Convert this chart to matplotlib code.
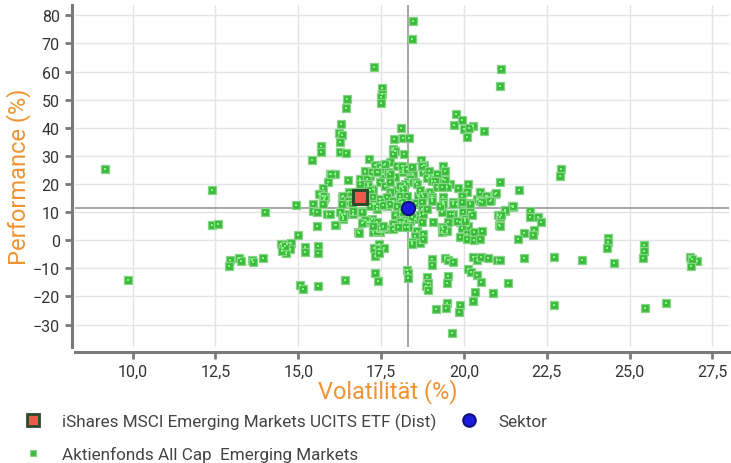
"""Rendite-Risiko-Streudiagramm: ETF vs. Sektor vs. Fonds der Peergroup."""

import matplotlib

matplotlib.use("Agg")
import matplotlib.pyplot as plt
from matplotlib.lines import Line2D
from matplotlib.ticker import FuncFormatter

# Volatilität (%), Performance (%) der Fonds aus der Peergroup
fund_upper = [
    (18.45, 77.9), (18.43, 71.5), (17.28, 61.7), (21.13, 60.9), (21.09, 55.0),
    (17.54, 54.1), (17.52, 52.1), (17.50, 51.1), (17.49, 49.0), (16.46, 50.3),
    (16.45, 47.0), (16.30, 41.5), (16.24, 38.2), (16.32, 37.4), (16.26, 35.1),
    (15.68, 33.4), (15.68, 31.3), (15.42, 28.7), (16.26, 31.5), (16.44, 31.0),
    (18.10, 40.1), (17.89, 35.9), (18.17, 36.3), (18.34, 36.4), (17.85, 32.5),
    (17.92, 31.9), (17.87, 30.7), (18.19, 30.7), (17.14, 28.8), (17.31, 26.9),
    (17.60, 26.9), (17.77, 27.7), (18.71, 28.7), (18.78, 26.6), (19.37, 26.5),
    (19.77, 44.8), (19.94, 42.8), (19.70, 41.1), (20.00, 39.6), (20.27, 40.7),
    (20.14, 39.9), (20.08, 36.9), (20.61, 38.8), (22.94, 25.5), (22.90, 22.8),
    (9.17, 25.5), (12.39, 17.9),
]

fund_core = [
    # obere Reihe
    (15.96, 23.6), (16.11, 23.6), (16.51, 21.5), (16.86, 21.2), (17.01, 24.2),
    (17.17, 23.0), (17.42, 24.2), (17.57, 23.6), (17.72, 24.2), (17.92, 22.4),
    (18.17, 24.2), (18.47, 23.6), (18.77, 24.2), (18.93, 23.0), (19.08, 23.2),
    (19.23, 23.6), (19.38, 21.8), (19.43, 24.8), (19.58, 20.0), (19.83, 18.5),
    (20.13, 20.0), (20.08, 17.3), (20.49, 17.1), (20.69, 15.9), (20.94, 16.5),
    (21.09, 20.6), (21.66, 17.9),
    (17.32, 26.8), (17.47, 25.9), (17.62, 27.2), (17.97, 26.5), (18.17, 25.4),
    (17.01, 24.8), (17.22, 24.2), (17.37, 24.2), (17.77, 23.6), (16.86, 21.8),
    (17.06, 21.8), (18.12, 26.5), (18.27, 25.4), (18.42, 26.0), (18.37, 21.8),
    (18.52, 20.6), (18.73, 26.5), (18.93, 24.8), (19.18, 23.6), (18.88, 22.1),
    (19.03, 21.2), (19.13, 21.2), (19.43, 21.6),
    # mittlere Reihe
    (15.91, 20.6), (15.75, 18.5), (15.66, 16.5), (15.81, 15.3), (16.31, 15.3),
    (16.61, 17.1), (16.86, 20.0), (17.11, 20.0), (17.26, 18.3), (17.46, 20.6),
    (17.62, 19.4), (17.77, 20.6), (17.97, 17.7), (18.12, 18.9), (18.32, 20.6),
    (18.58, 20.0), (18.62, 15.9), (18.73, 16.5), (18.98, 17.1), (19.03, 15.3),
    (19.18, 18.9), (19.38, 15.3), (19.48, 18.9), (19.68, 13.5), (19.78, 12.9),
    (19.93, 15.9), (20.39, 14.7), (16.00, 23.6), (15.63, 16.5), (15.74, 15.7),
    (15.78, 14.7), (16.54, 17.1), (16.36, 15.9), (16.51, 14.1), (16.61, 12.9),
    (17.11, 19.4), (17.17, 17.7), (17.77, 17.1), (18.17, 17.1), (18.22, 20.0),
    (17.26, 15.3), (17.47, 14.7), (17.67, 15.3), (17.87, 14.1), (18.07, 14.7),
    (18.27, 14.1), (17.32, 12.9), (19.33, 18.9), (20.49, 17.3), (20.67, 15.9),
    (20.81, 14.3), (20.97, 16.8), (20.49, 14.1), (19.93, 15.7), (20.18, 13.3),
    (19.38, 13.5), (18.67, 17.7), (18.76, 15.9), (19.03, 14.7), (18.07, 19.4),
    (18.17, 18.2), (18.07, 15.9), (18.27, 15.9), (18.12, 13.5),
    # um den Sektor
    (18.55, 13.3), (18.73, 13.7), (19.03, 14.1), (19.38, 12.9), (19.68, 12.9),
    (19.93, 13.5), (20.18, 12.9), (20.54, 13.7), (20.79, 14.1), (18.73, 11.1),
    (18.67, 8.8), (18.52, 7.6), (18.73, 6.4), (18.37, 7.0), (18.22, 7.6),
    (19.08, 6.4), (19.33, 10.0), (19.28, 12.3), (19.68, 9.4), (19.53, 6.4),
    (19.88, 6.4), (19.98, 10.0), (20.18, 10.0), (20.03, 7.6), (20.13, 5.2),
    (19.93, 4.3), (20.08, 2.2), (20.31, 2.8), (20.54, 3.4), (19.33, 4.6),
    (19.33, 2.8), (19.48, 3.4), (18.58, 3.4), (18.52, 1.6), (18.77, 2.2),
    (18.42, -0.7), (18.67, -1.1), (19.88, 1.1), (20.08, 0.5), (20.31, -0.1),
    (20.49, 0.5), (21.44, 12.3), (21.24, 10.5), (21.04, 9.0),
    # untere Reihe
    (15.45, 12.9), (15.45, 10.5), (15.56, 10.0), (15.75, 12.9), (15.86, 9.4),
    (15.96, 9.4), (16.31, 8.8), (16.36, 7.6), (16.41, 9.4), (16.66, 9.4),
    (16.91, 10.5), (16.96, 6.4), (17.11, 6.4), (17.22, 7.6), (17.26, 12.9),
    (17.37, 11.1), (17.47, 13.5), (17.67, 12.3), (17.92, 8.8), (17.97, 11.7),
    (18.07, 10.0), (18.17, 6.4), (18.32, 4.6), (18.42, 8.2), (18.77, 9.4),
    (18.88, 11.1), (19.38, 4.0), (19.58, 9.4), (19.78, 7.0), (20.03, 7.0),
    (20.24, 8.8), (21.09, 8.2), (21.06, 5.4), (21.49, 11.7),
    (16.31, 12.9), (16.26, 10.2), (16.66, 10.5), (16.91, 10.0), (17.17, 12.3),
    (17.37, 12.3), (17.57, 12.6), (17.77, 12.9), (17.97, 12.3), (18.17, 10.0),
    (18.07, 6.4), (18.22, 4.6), (17.87, 5.8), (17.72, 4.0), (17.47, 2.8),
    (17.37, 6.4), (17.17, 7.0), (17.01, 7.3), (16.91, 6.2), (16.36, 8.2),
    (15.57, 5.2), (16.13, 5.4), (16.11, 5.4), (16.81, 2.8), (16.84, 2.6),
    (17.26, 2.8), (17.37, 3.4), (17.47, 4.3), (17.57, 4.6), (17.87, 4.0),
    (18.02, 4.6), (18.77, 0.5), (18.42, -1.3), (17.26, 5.2), (17.57, 5.2),
    (14.92, 12.7), (14.00, 9.9), (12.39, 5.4), (12.57, 5.8),
]

fund_lower = [
    (9.86, -14.2), (12.94, -6.9), (12.91, -9.2), (13.21, -6.3), (13.27, -7.4),
    (13.59, -6.9), (13.63, -7.7), (13.94, -6.4), (14.48, -1.3), (14.66, -1.3),
    (14.78, -0.9), (14.54, -2.7), (14.75, -3.1), (14.63, -4.5), (14.51, -3.8),
    (14.60, -2.0), (15.00, 1.7), (15.05, -15.8), (15.15, -17.3), (15.59, -16.3),
    (15.20, -2.5), (15.20, -4.3), (15.60, -1.9), (15.58, -4.5), (16.42, -14.0),
    (17.32, -11.6), (17.42, -14.5), (17.45, -1.3), (17.29, -2.8), (17.45, -3.1),
    (17.60, -2.6), (17.32, -5.5), (17.45, -4.6), (18.29, -10.5), (18.32, -11.8),
    (18.30, -13.3),
    (19.03, -6.7), (19.03, -8.7), (19.43, -6.4), (19.53, -6.9), (19.66, -7.6),
    (20.28, -6.0), (20.40, -6.9), (20.51, -6.0), (20.74, -6.4), (21.01, -6.9),
    (20.13, -10.2), (20.21, -11.4), (20.39, -12.3), (20.52, -14.9), (20.34, -18.5),
    (20.89, -18.8), (20.27, -21.8), (19.88, -23.0), (19.85, -25.6), (19.48, -22.4),
    (19.45, -24.2), (19.16, -24.5), (19.65, -32.9), (18.88, -13.2), (18.91, -15.2),
    (18.85, -16.2), (18.91, -17.6), (19.51, -12.8), (19.48, -15.2),
]

fund_right = [
    (21.47, 12.0), (21.24, 10.7), (21.11, 8.8), (21.09, 5.2), (22.00, 10.3),
    (22.00, 8.4), (22.23, 8.4), (22.32, 6.6), (21.82, 2.6), (21.62, 0.5),
    (22.10, 3.7), (22.07, 1.9), (21.82, -6.3), (21.09, -6.9), (22.71, -5.8),
    (23.55, -7.0), (24.53, -8.0), (24.36, 0.8), (24.36, -0.7), (24.33, -2.7),
    (25.44, -1.6), (25.42, -3.9), (25.40, -6.3), (26.81, -6.1), (27.02, -7.4),
    (26.85, -9.0), (26.88, -6.7), (21.34, -15.4), (22.73, -23.0), (25.45, -24.1),
    (26.11, -22.2),
]

etf_point = (16.86, 15.3)
sector_point = (18.30, 11.5)

etf_label = "iShares MSCI Emerging Markets UCITS ETF (Dist)"
sector_label = "Sektor"
fund_label = "Aktienfonds All Cap  Emerging Markets"

x_ticks = [10.0, 12.5, 15.0, 17.5, 20.0, 22.5, 25.0, 27.5]
y_ticks = [-30, -20, -10, 0, 10, 20, 30, 40, 50, 60, 70, 80]

ORANGE = "#ee9431"
GREEN = "#3dba3d"
GREEN_EDGE = "#86d586"
AXIS_GREY = "#7a7a7a"

plt.rcParams["font.family"] = ["Roboto", "DejaVu Sans"]

fig = plt.figure(figsize=(7.31, 4.64), dpi=100)
ax = fig.add_axes([75 / 731, 1 - 348 / 464, 654 / 731, 342 / 464])

funds = fund_upper + fund_core + fund_lower + fund_right
fx = [p[0] for p in funds]
fy = [p[1] for p in funds]

ax.axvline(sector_point[0], color="#8e8e8e", lw=1.1, zorder=2)
ax.axhline(sector_point[1], color="#8e8e8e", lw=1.1, zorder=2)

ax.scatter(fx, fy, marker="s", s=40, color=GREEN, edgecolors=GREEN_EDGE,
           linewidths=0.9, zorder=3)
ax.scatter(fx, fy, marker="s", s=1.5, color="#7dff7d", linewidths=0, zorder=4)

ax.scatter([etf_point[0]], [etf_point[1]], marker="s", s=110, color="#f2564c",
           edgecolors="#2c4a2c", linewidths=2.2, zorder=5)
ax.scatter([sector_point[0]], [sector_point[1]], marker="o", s=90, color="#1c1ce0",
           edgecolors="#10107a", linewidths=1.5, zorder=6)

ax.set_xlim(8.26, 28.0)
ax.set_ylim(-38, 83.7)
ax.set_xticks(x_ticks)
ax.set_yticks(y_ticks)
ax.xaxis.set_major_formatter(FuncFormatter(lambda v, _: f"{v:.1f}".replace(".", ",")))
ax.grid(True, color="#e3e3ea", lw=1.0, zorder=0)
ax.set_axisbelow(True)

for side in ("top", "right"):
    ax.spines[side].set_visible(False)
ax.spines["left"].set_position(("outward", 2.5))
ax.spines["bottom"].set_position(("outward", 3.5))
for side in ("left", "bottom"):
    ax.spines[side].set_color(AXIS_GREY)
    ax.spines[side].set_linewidth(2.2)
ax.tick_params(axis="both", colors=AXIS_GREY, width=2.0, length=5,
               labelcolor="#333333", labelsize=11.5)

ax.set_xlabel("Volatilität (%)", color=ORANGE, fontsize=17)
ax.set_ylabel("Performance (%)", color=ORANGE, fontsize=17)
ax.xaxis.set_label_coords((388 - 75) / 654, -(392 - 348) / 342)
ax.yaxis.set_label_coords(-(75 - 19) / 654, 0.5)
ax.xaxis.label.set_va("center")
ax.yaxis.label.set_va("center")

handles = [
    Line2D([], [], ls="none", marker="s", ms=9, mfc="#f2564c", mec="#2c4a2c", mew=2),
    Line2D([], [], ls="none", marker="s", ms=5, mfc=GREEN, mec=GREEN_EDGE, mew=0.8),
    Line2D([], [], ls="none", marker="o", ms=9, mfc="#1c1ce0", mec="#10107a", mew=1.5),
]
fig.legend(handles, [etf_label, fund_label, sector_label], ncol=2,
           loc="upper left", bbox_to_anchor=(7 / 731, 1 - 398 / 464),
           frameon=False, fontsize=12.3, labelcolor="#444444",
           handletextpad=1.1, columnspacing=1.35, labelspacing=0.93,
           handlelength=1.2)

fig.savefig("out.png", dpi=100)
